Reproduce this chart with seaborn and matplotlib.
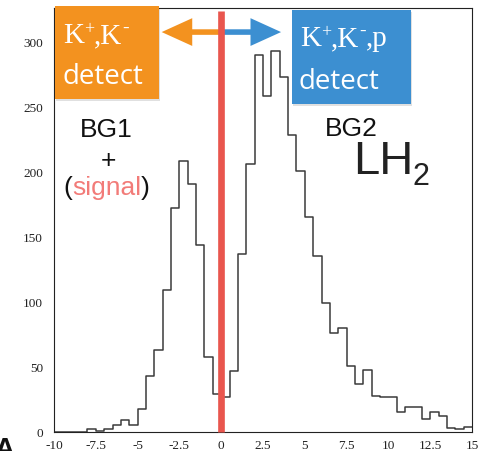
import numpy as np
import pandas as pd
import matplotlib
matplotlib.use("Agg")
import matplotlib.pyplot as plt
import seaborn as sns
from matplotlib.patches import Rectangle, FancyArrowPatch, ArrowStyle
from matplotlib.transforms import IdentityTransform, blended_transform_factory
from matplotlib.ticker import MultipleLocator

# ---- histogram contents (0.5-wide bins from -10 to 15) ----
bin_width = 0.5
bin_low = np.arange(-10.0, 15.0, bin_width)
counts = [0, 0, 0, 0, 2, 1, 2, 5, 9, 5,
          18, 43, 63, 109, 172, 208, 191, 144, 58, 29,
          27, 47, 137, 206, 290, 258, 293, 273, 228, 201,
          165, 135, 99, 76, 80, 51, 37, 48, 28, 27,
          27, 15, 19, 19, 10, 15, 12, 3, 2, 4]
bin_edges = [float(v) for v in np.append(bin_low, bin_low[-1] + bin_width)]
hist_df = pd.DataFrame({"center": bin_low + bin_width / 2, "count": counts})

x_ticks = [-10, -7.5, -5, -2.5, 0, 2.5, 5, 7.5, 10, 12.5, 15]
x_tick_labels = ["-10", "-7.5", "-5", "-2.5", "0", "2.5", "5", "7.5", "10", "12.5", "15"]
y_ticks = [0, 50, 100, 150, 200, 250, 300]
y_tick_labels = ["0", "50", "100", "150", "200", "250", "300"]

cut_position = 0.0

sns.set_style("white")
plt.rcParams["font.family"] = ["Liberation Sans", "DejaVu Sans"]
plt.rcParams["axes.unicode_minus"] = False

W, H = 481, 452
fig = plt.figure(figsize=(W / 100, H / 100), dpi=100)
fig.patch.set_facecolor("white")
ax = fig.add_axes([54 / W, 1 - 433 / H, (472 - 54) / W, (433 - 9) / H])

sns.histplot(data=hist_df, x="center", weights="count", bins=bin_edges,
             element="step", fill=False, color="#3a3a3a", linewidth=1.1, ax=ax)

ax.set_xlim(-10, 15)
ax.set_ylim(0, 326)
ax.set_xlabel("")
ax.set_ylabel("")
ax.set_xticks(x_ticks)
ax.set_xticklabels(x_tick_labels)
ax.set_yticks(y_ticks)
ax.set_yticklabels(y_tick_labels)
ax.xaxis.set_minor_locator(MultipleLocator(0.5))
ax.yaxis.set_minor_locator(MultipleLocator(10))
ax.tick_params(which="both", direction="in", top=False, right=False,
               color="#222222", width=0.8)
ax.tick_params(which="major", length=6)
ax.tick_params(which="minor", length=3)
ax.tick_params(axis="y", which="major", pad=8)
ax.tick_params(axis="x", which="major", pad=5)
for lab in ax.get_xticklabels() + ax.get_yticklabels():
    lab.set_fontfamily(["Liberation Serif", "DejaVu Serif"])
    lab.set_fontsize(9.5)
    lab.set_color("#222222")
for sp in ax.spines.values():
    sp.set_color("#222222")
    sp.set_linewidth(0.8)
    sp.set_visible(True)

# ---- selection cut at zero ----
bt = blended_transform_factory(ax.transData, ax.transAxes)
ax.plot([cut_position, cut_position], [0, 0.993], transform=bt, color="#e9564e",
        lw=4.8, solid_capstyle="butt", clip_on=False, zorder=6)

# ---- direction arrows ----
arrow_y = 307.5
orange = "#f3921f"
blue = "#3c8fd1"
style = ArrowStyle.Simple(head_length=2.2, head_width=2.0, tail_width=0.4)
for tip, col in [(-3.56, orange), (3.58, blue)]:
    arr = FancyArrowPatch((cut_position, arrow_y), (tip, arrow_y), arrowstyle=style,
                          mutation_scale=10, color=col, shrinkA=0, shrinkB=0,
                          lw=0, zorder=5, clip_on=False)
    ax.add_patch(arr)


def px(x, y):
    """pixel position measured from the top-left corner -> display coords"""
    return x, H - y


ident = IdentityTransform()

# ---- coloured label boxes ----
for (x0, y0, x1, y1, col) in [(55, 7, 159, 100, orange), (292, 11, 411, 105, blue)]:
    shadow = Rectangle(px(x0 + 1, y1 + 2), x1 - x0, y1 - y0, transform=ident,
                       facecolor="#000000", alpha=0.12, lw=0, zorder=7)
    box = Rectangle(px(x0, y1), x1 - x0, y1 - y0, transform=ident,
                    facecolor=col, lw=0, zorder=8)
    fig.patches.extend([shadow, box])

fig.canvas.draw()
renderer = fig.canvas.get_renderer()


def run_of_text(x, y, pieces, family, **kw):
    """lay text pieces side by side on one baseline; piece=(text, size, raise_px, colour)"""
    for text, size, lift, col in pieces:
        t = fig.text(*px(x, y - lift), text, transform=ident, color=col,
                     fontsize=size, ha="left", va="baseline", family=family, **kw)
        x = t.get_window_extent(renderer).x1


serif = ["Liberation Serif", "DejaVu Serif"]
run_of_text(63, 43, [("K", 21, 0, "white"), ("+", 13, 9, "white"),
                     (",K", 21, 0, "white"), ("-", 14, 10, "white")], serif, zorder=9)
run_of_text(300, 46, [("K", 21, 0, "white"), ("+", 13, 9, "white"),
                      (",K", 21, 0, "white"), ("-", 14, 10, "white"),
                      (",p", 21, 0, "white")], serif, zorder=9)
fig.text(*px(62, 84), "detect", transform=ident, color="white",
         fontsize=20, ha="left", va="baseline", zorder=9,
         family=["Open Sans", "DejaVu Sans"])
fig.text(*px(299, 89), "detect", transform=ident, color="white",
         fontsize=20, ha="left", va="baseline", zorder=9,
         family=["Open Sans", "DejaVu Sans"])

# ---- region labels ----
fig.text(*px(106, 137), "BG1", transform=ident, color="#111111", fontsize=19,
         ha="center", va="baseline")
fig.text(*px(108, 168), "+", transform=ident, color="#111111", fontsize=19,
         ha="center", va="baseline")
fig.text(*px(351, 136), "BG2", transform=ident, color="#111111", fontsize=19,
         ha="center", va="baseline")
fig.text(*px(353, 174), "LH", transform=ident, color="#222222", fontsize=34,
         ha="left", va="baseline")
fig.text(*px(412, 185), "2", transform=ident, color="#222222", fontsize=22,
         ha="left", va="baseline")

# "(signal)" with the word in pink
run_of_text(63, 195, [("(", 19, 0, "#111111"), ("signal", 19, 0, "#f27b78"),
                      (")", 19, 0, "#111111")], ["Liberation Sans", "DejaVu Sans"])

fig.text(-0.012, -0.012, "A", fontsize=20, fontweight="bold", color="#111111")

fig.savefig("out.png", dpi=100)
